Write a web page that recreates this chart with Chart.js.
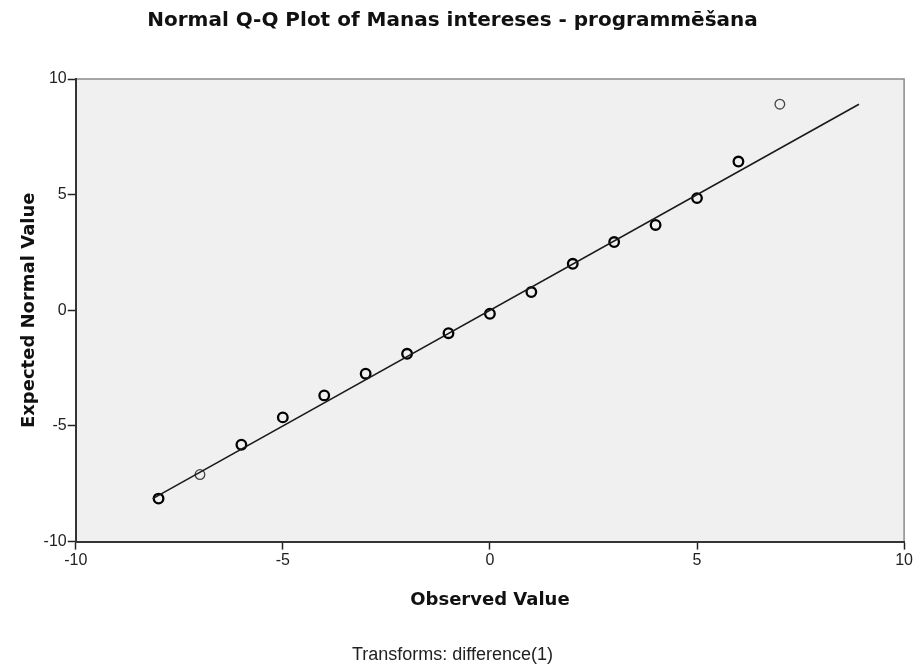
<!DOCTYPE html>
<html>
<head>
<meta charset="utf-8">
<title>Normal Q-Q Plot</title>
<script src="https://cdn.jsdelivr.net/npm/chart.js@4/dist/chart.umd.min.js"></script>
<style>
  html, body { margin: 0; padding: 0; background: #fff; }
  #wrap { width: 914px; height: 670px; }
</style>
</head>
<body>
<div id="wrap"><canvas id="qq"></canvas></div>
<script>
"use strict";

// observed differences and their expected normal quantiles
const observed = [-8, -7, -6, -5, -4, -3, -2, -1, 0, 1, 2, 3, 4, 5, 6, 7];
const expected = [-8.14, -7.10, -5.81, -4.63, -3.68, -2.74, -1.88, -0.99, -0.15, 0.79, 2.01, 2.95, 3.69, 4.85, 6.43, 8.91];
// single observations are drawn with a thinner ring
const caseCounts = [2, 1, 2, 2, 2, 2, 2, 2, 2, 2, 2, 2, 2, 2, 2, 1];
const axisTicks = [-10, -5, 0, 5, 10];

const points = observed.map((x, i) => ({x: x, y: expected[i]}));
const lo = Math.min(...expected);
const hi = Math.max(...expected);
const refLine = [{x: lo, y: lo}, {x: hi, y: hi}];

const plotFrame = {
  id: "plotFrame",
  beforeDraw(chart) {
    const {ctx, chartArea: a} = chart;
    ctx.save();
    ctx.fillStyle = "#f0f0f0";
    ctx.fillRect(a.left, a.top, a.right - a.left, a.bottom - a.top);
    ctx.strokeStyle = "#8a8a8a";
    ctx.lineWidth = 1.5;
    ctx.beginPath();
    ctx.moveTo(a.left, a.top);
    ctx.lineTo(a.right, a.top);
    ctx.lineTo(a.right, a.bottom);
    ctx.stroke();
    ctx.restore();
  }
};

const bold = (size) => ({family: "'DejaVu Sans', sans-serif", size: size, weight: "bold"});
const tickFont = {family: "'Liberation Sans', Arial, sans-serif", size: 16};

const axis = (label, titlePadding) => ({
  type: "linear",
  min: -10,
  max: 10,
  afterBuildTicks: (scale) => { scale.ticks = axisTicks.map(v => ({value: v})); },
  grid: {drawOnChartArea: false, color: "#222", tickLength: 8, tickWidth: 1.5},
  border: {color: "#333", width: 2},
  ticks: {color: "#222", font: tickFont, padding: 1, maxRotation: 0},
  title: {display: true, text: label, color: "#111", font: bold(18), padding: titlePadding}
});

new Chart(document.getElementById("qq"), {
  data: {
    datasets: [
      {
        type: "line",
        data: refLine,
        borderColor: "#1a1a1a",
        borderWidth: 1.6,
        pointRadius: 0,
        fill: false
      },
      {
        type: "scatter",
        data: points,
        pointRadius: 4.8,
        pointBackgroundColor: "rgba(0,0,0,0)",
        pointBorderColor: caseCounts.map(n => n > 1 ? "#000" : "#444"),
        pointBorderWidth: caseCounts.map(n => n > 1 ? 2.3 : 1.3)
      }
    ]
  },
  options: {
    responsive: true,
    maintainAspectRatio: false,
    animation: false,
    layout: {padding: {left: 0, right: 9, top: 0, bottom: 0}},
    scales: {
      x: axis("Observed Value", {top: 19, bottom: 33}),
      y: axis("Expected Normal Value", {top: 19, bottom: 2})
    },
    plugins: {
      legend: {display: false},
      tooltip: {enabled: false},
      title: {
        display: true,
        text: "Normal Q-Q Plot of Manas intereses - programmēšana",
        color: "#111",
        font: bold(20),
        padding: {top: 9, bottom: 46}
      },
      subtitle: {
        display: true,
        position: "bottom",
        text: "Transforms: difference(1)",
        color: "#222",
        font: {family: "'Liberation Sans', Arial, sans-serif", size: 18},
        padding: {top: 0, bottom: 4}
      }
    }
  },
  plugins: [plotFrame]
});
</script>
</body>
</html>
